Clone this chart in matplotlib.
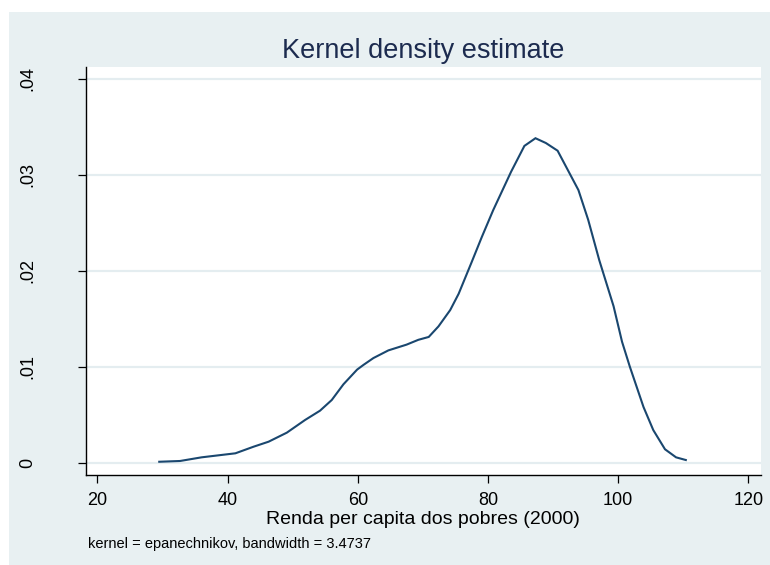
import matplotlib.pyplot as plt
from matplotlib.patches import Rectangle

plt.rcParams['font.family'] = ['Liberation Sans', 'DejaVu Sans']

# density curve (Stata kdensity output)
renda = [29.5, 32.7, 36.0, 41.2, 44.0, 46.3, 49.1, 51.9, 54.2, 56.0,
         57.8, 59.9, 60.9, 62.4, 64.7, 67.5, 69.3, 70.9, 72.4, 74.2,
         75.5, 77.5, 79.05, 80.8, 83.55, 85.6, 87.3, 88.9, 90.7,
         93.9, 95.4, 97.1, 99.3, 100.6, 101.8, 103.9, 105.4, 107.2, 108.9,
         110.4]
densidade = [0.0001, 0.00018, 0.00056, 0.00098, 0.00167, 0.00219, 0.00313, 0.00445, 0.00542, 0.00653,
             0.00817, 0.0097, 0.0102, 0.0109, 0.0117, 0.0123, 0.0128, 0.0131, 0.0142, 0.0159,
             0.0176, 0.0209, 0.0235, 0.0263, 0.0303, 0.0330, 0.0338, 0.0333, 0.0325,
             0.0284, 0.0253, 0.0211, 0.0163, 0.0126, 0.0100, 0.0058, 0.0034, 0.0014, 0.00056,
             0.00028]

xticks = [20, 40, 60, 80, 100, 120]
yticks = [0, 0.01, 0.02, 0.03, 0.04]
ytick_labels = ['0', '.01', '.02', '.03', '.04']

bg = '#e8f0f2'
navy = '#1a476f'

fig = plt.figure(figsize=(7.7, 5.65), dpi=100)
fig.patches.append(Rectangle((9 / 770, 0), 1, 1 - 12 / 565, transform=fig.transFigure,
                             facecolor=bg, edgecolor='none', zorder=-10))

ax = fig.add_axes([85.7 / 770, 90 / 565, (761 - 85.7) / 770, (475 - 66.7) / 565])
ax.set_facecolor('white')

ax.plot(renda, densidade, color=navy, lw=1.5, solid_joinstyle='miter')

ax.set_xlim(18.2, 121.95)
ax.set_ylim(-0.00128, 0.04125)
ax.set_xticks(xticks)
ax.set_yticks(yticks)
ax.set_yticklabels(ytick_labels, rotation=90, va='center')
ax.grid(axis='y', color='#e4edf0', lw=1.6)
ax.set_axisbelow(True)

for s in ['top', 'right']:
    ax.spines[s].set_visible(False)
for s in ['left', 'bottom']:
    ax.spines[s].set_color('black')
    ax.spines[s].set_linewidth(1.0)

ax.tick_params(axis='x', length=5.5, width=0.9, labelsize=13, pad=7)
ax.tick_params(axis='y', length=5.8, width=0.9, labelsize=13, pad=30)

ax.set_title('Kernel density estimate', fontsize=19.5, color='#1c2b4f', pad=6.3)
ax.set_xlabel('Renda per capita dos pobres (2000)', fontsize=14, labelpad=1)

fig.text(88 / 770, (565 - 548) / 565, 'kernel = epanechnikov, bandwidth = 3.4737',
         fontsize=10.5, ha='left', va='baseline')

fig.savefig('out.png', dpi=100, facecolor='white')
